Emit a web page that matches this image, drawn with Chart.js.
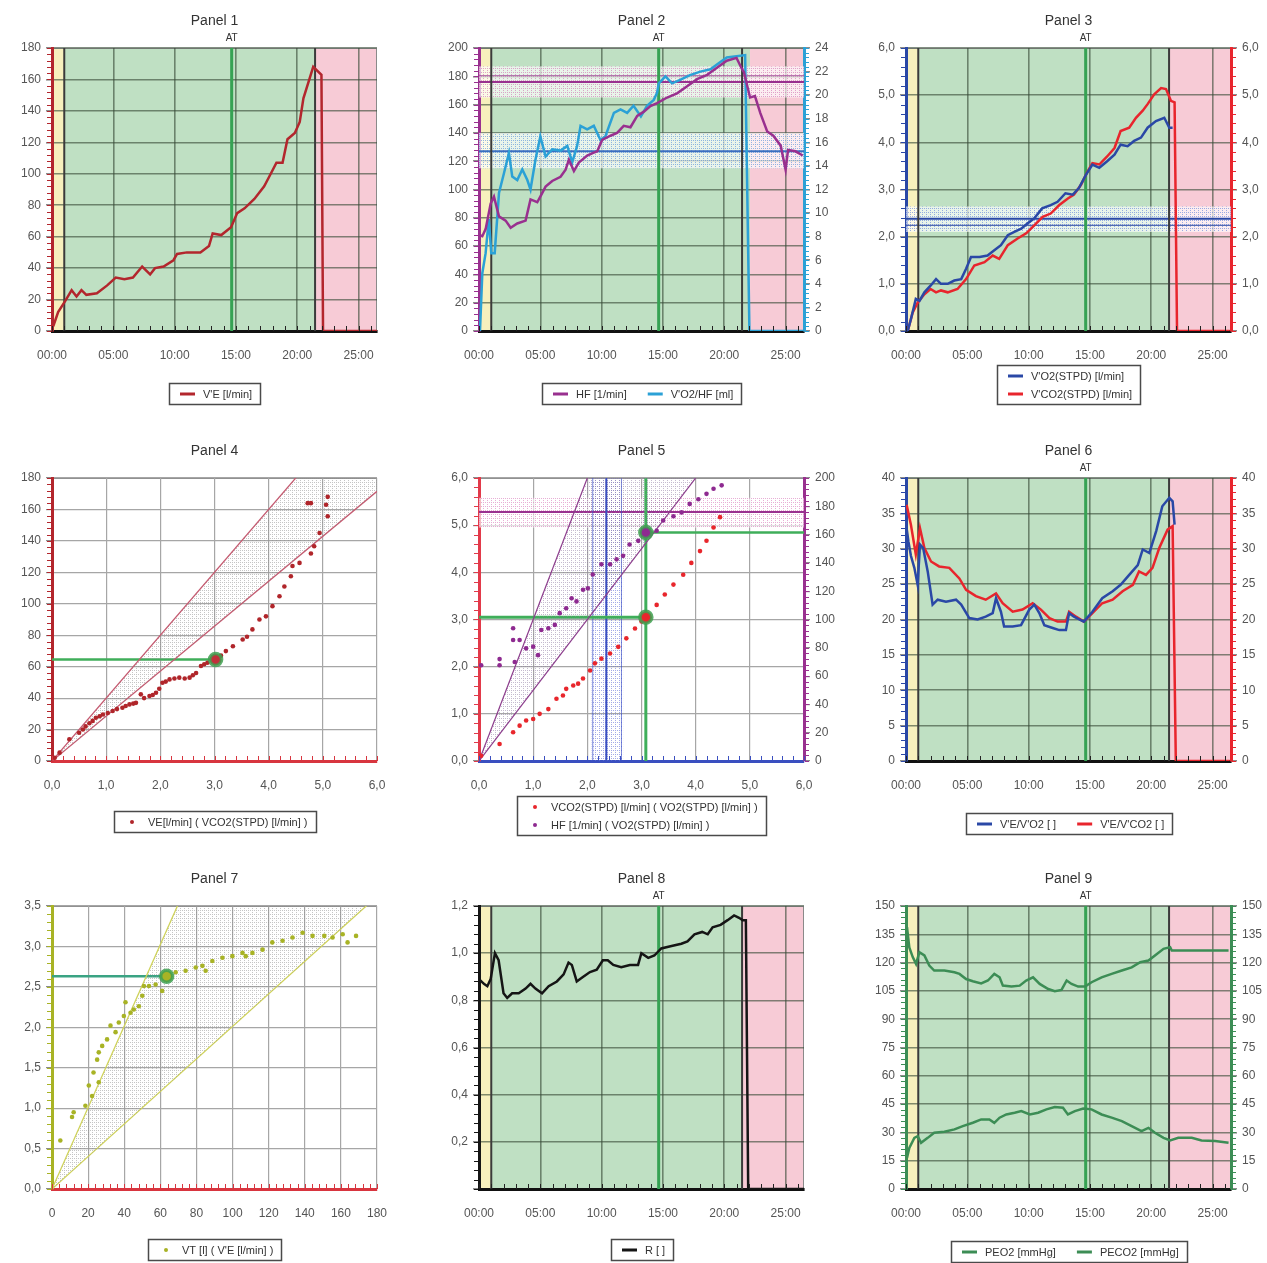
<!DOCTYPE html>
<html>
<head>
<meta charset="utf-8">
<script src="https://cdn.jsdelivr.net/npm/chart.js@4.4.1/dist/chart.umd.min.js"></script>
<style>
html, body { margin: 0; padding: 0; background: #fff; }
body { width: 1267px; height: 1263px; overflow: hidden; position: relative; }
canvas { position: absolute; }
</style>
</head>
<body>
<script>
// ---- data (time in minutes) ----
const X_MAX = 26.5;
const phaseEdges = [0, 1.0, 21.45, 26.5];      // rest | exercise | recovery
const p2PhaseEdges = [0, 1.0, 22.1, 26.5];
const phaseLineTimes = [1.0, 21.45];
const atTime = [14.65];

// Panel 1: V'E
const p1Time = [0.1,0.5,1.07,1.6,2.0,2.4,2.8,3.66,4.5,5.2,5.9,6.6,7.35,8.0,8.4,9.1,9.9,10.2,11.0,12.1,12.8,13.1,13.8,14.6,15.1,15.7,16.5,17.3,17.9,18.3,18.8,19.2,19.8,20.2,20.5,20.9,21.3,21.97,22.1,26.5];
const p1Ve = [3,12,19,26,22,26,23,24,29,34,33,34,41,36,40,41,45,49,50,50,54,62,61,66,75,78,84,92,101,107,107,122,126,133,148,158,168,163,0,0];

// Panel 2: HF and V'O2/HF
const p2HfTime = [0,0.27,0.54,0.95,1.22,1.63,2.17,2.58,3.12,3.8,4.2,4.75,5.0,5.43,5.97,6.65,7.06,7.33,7.74,8.14,8.82,9.36,9.64,10.04,10.72,11.26,11.8,12.35,12.9,13.44,13.98,14.52,15.34,16.15,16.97,17.78,18.6,19.4,20.2,21.0,21.45,21.6,22.1,22.5,22.94,23.5,24.0,24.6,25.0,25.2,25.8,26.4];
const p2Hf = [68,67,72,90,95,81,78,73,76,78,93,91,95,102,106,109,114,121,113,119,124,126,127,135,138,140,145,144,152,155,159,161,165,168,173,178,181,186,191,193,185,183,165,166,154,141,138,131,114,128,127,124];
const p2VoHfTime = [0.08,0.27,0.54,0.8,1.0,1.28,1.63,2.04,2.44,2.71,3.12,3.53,3.94,4.2,4.6,5.0,5.43,5.97,6.65,7.2,7.6,8.0,8.28,8.82,9.36,9.9,10.3,11.0,11.54,12.08,12.6,13.2,13.7,14.25,14.52,14.66,15.2,15.74,16.4,17.2,18.05,18.87,19.4,20.2,21.0,21.7,22.05,26.5];
const p2VoHf = [0,4.9,6.6,9.5,6.6,6.6,11.7,13.4,15.1,13.1,12.8,13.7,12.8,12.0,14.5,16.5,14.8,15.4,15.3,15.7,14.3,15.7,17.4,17.1,17.4,16.2,16.5,18.5,18.8,18.5,19.1,18.2,19.1,19.6,20.2,21.0,21.6,21.0,21.3,21.7,22.0,22.2,22.6,23.2,23.3,23.4,0,0];
const p2HfRef = [165, 176, 187];       // band low, reference, band high
const p2HfLimit = [180.5];
const p2VoHfRef = [13.8, 15.25, 16.8];

// Panel 3: V'O2 and V'CO2
const p3Vo2Time = [0.14,0.4,0.8,1.1,1.5,2.0,2.45,2.85,3.4,3.94,4.5,4.9,5.3,6.0,6.65,7.2,7.74,8.3,8.83,9.4,9.9,10.46,11.1,11.8,12.36,13.0,13.6,14.1,14.67,15.2,15.76,16.4,17.0,17.5,18.07,18.6,19.16,19.7,20.38,21.06,21.47,21.74];
const p3Vo2 = [0,0.25,0.68,0.64,0.82,0.96,1.10,1.0,1.0,1.07,1.10,1.32,1.57,1.57,1.60,1.71,1.82,2.03,2.10,2.17,2.28,2.39,2.60,2.67,2.74,2.92,2.89,3.03,3.31,3.53,3.46,3.6,3.74,3.95,3.92,4.03,4.10,4.31,4.45,4.52,4.31,4.31];
const p3Vco2Time = [0.14,0.54,0.95,1.5,2.0,2.45,2.85,3.4,4.2,4.9,5.57,6.4,7.07,7.6,8.3,9.1,9.8,10.46,11.14,11.8,12.5,13.2,13.7,14.27,14.8,15.2,15.76,16.4,17.0,17.5,18.2,18.75,19.3,19.7,20.24,20.8,21.2,21.6,21.9,22.1,26.4];
const p3Vco2 = [0,0.39,0.6,0.78,0.89,0.82,0.86,0.82,0.89,1.10,1.39,1.46,1.60,1.53,1.82,1.96,2.07,2.24,2.42,2.49,2.67,2.81,2.89,3.10,3.38,3.56,3.53,3.7,3.88,4.24,4.31,4.52,4.67,4.81,5.02,5.15,5.13,4.88,4.85,0,0];
const p3Vo2Ref = [2.1, 2.24, 2.38, 2.64];

// Panel 4: V'E vs V'CO2
const p4Vco2 = [0.05,0.14,0.32,0.5,0.57,0.62,0.69,0.75,0.81,0.88,0.94,1.03,1.12,1.2,1.3,1.36,1.43,1.5,1.55,1.64,1.7,1.8,1.86,1.92,1.98,2.04,2.1,2.17,2.26,2.35,2.45,2.54,2.6,2.66,2.75,2.81,2.87,3.03,3.12,3.21,3.34,3.52,3.6,3.7,3.83,3.95,4.07,4.2,4.29,4.41,4.44,4.57,4.78,4.84,4.94,5.09,5.06,5.09,4.78,4.72];
const p4Ve = [2,5.3,13.8,18,20,22,24,25.5,27.5,28.5,29.6,30.5,31.8,33,33.9,35,36,36.5,37,42.4,40,41.3,42,43.4,46,49.8,50.5,51.9,52.5,53,52.5,53,54.5,56,60.4,61.5,62.5,64.6,67,69.9,73,77.3,79,83.7,90,92,98.5,104.8,111,117.5,124,126,132,136.6,145,155.7,163,168,164,164];
const p4RefX = [0, 6];
const p4UpperY = [0, 240];
const p4LowerY = [0, 171.5];
const p4At = [3.02, 64.5];

// Panel 5: V'CO2 and HF vs V'O2
const p5Vo2 = [0.04,0.38,0.63,0.75,0.87,1.0,1.12,1.28,1.43,1.55,1.61,1.74,1.83,1.92,2.05,2.14,2.26,2.42,2.57,2.72,2.88,3.0,3.12,3.28,3.43,3.59,3.77,3.92,4.08,4.2,4.33,4.45];
const p5Vco2 = [0.11,0.36,0.61,0.75,0.86,0.89,1.0,1.1,1.32,1.39,1.53,1.6,1.64,1.75,1.92,2.07,2.17,2.28,2.42,2.6,2.81,2.96,3.06,3.31,3.53,3.74,3.95,4.2,4.45,4.67,4.95,5.17];
const p5HfVo2 = [0.04,0.38,0.38,0.63,0.63,0.66,0.75,0.87,1.0,1.09,1.15,1.28,1.4,1.49,1.61,1.71,1.8,1.92,2.01,2.1,2.26,2.42,2.54,2.66,2.78,2.94,3.12,3.28,3.4,3.59,3.74,3.89,4.05,4.2,4.33,4.48];
const p5Hf = [67.7,67.7,72,93.8,85.5,70,85.5,79.6,80.8,74.8,92.6,93.8,96.2,104.5,108,115,112.8,121,122,131.8,139,139,142.5,145,153,155.6,160,162.7,170,173,175.7,181.7,185,188.8,192.4,194.8];
const p5RefX = [0, 6];
const p5SteepHf = [0, 600];
const p5ShallowHf = [0, 300];
const p5At = [3.08, 3.05, 161.5];       // V'O2, V'CO2, HF at AT
const p5Vo2Ref = [2.08, 2.1, 2.35, 2.63, 2.66];
const p5HfRef = [165, 176, 186];

// Panel 6: V'E/V'O2 and V'E/V'CO2
const p6VeVo2Time = [0.05,0.2,0.4,0.68,0.95,1.14,1.4,1.77,2.17,2.58,3.26,4.08,4.5,5.16,5.84,6.5,7.07,7.34,7.74,8.0,8.7,9.38,10.05,10.46,10.87,11.28,11.96,12.5,13.04,13.3,13.7,14.13,14.5,15.2,16.0,16.85,17.5,18.2,18.9,19.3,19.84,20.4,20.9,21.47,21.74,21.9];
const p6VeVo2 = [32.9,31,29,27.3,24.9,30.6,30.1,26.8,22.1,22.8,22.5,22.8,22.1,20.2,20.0,20.4,20.9,23.0,21.1,19.0,19.0,19.2,21.4,22.1,20.9,19.2,18.8,18.5,18.5,20.9,20.4,20.0,19.7,21.1,23.0,24.0,24.9,26.3,27.7,29.9,29.4,32.5,36.0,37.2,36.7,33.4];
const p6VeVco2Time = [0.05,0.4,0.8,1.14,1.5,2.04,2.7,3.53,4.35,4.9,5.7,6.5,7.34,7.88,8.7,9.5,10.33,11.0,11.7,12.36,13.04,13.3,13.86,14.5,15.2,16.0,16.85,17.66,18.5,19.0,19.57,20.1,20.65,21.33,21.74,22.0,26.4];
const p6VeVco2 = [36.2,33.4,29.2,32.9,30.1,28.2,27.5,27.3,25.8,24.2,23.3,22.8,23.7,22.3,21.1,21.4,22.3,21.4,20.2,19.7,19.7,21.1,20.4,19.7,20.9,22.3,22.8,24.0,24.9,26.8,26.3,27.3,30.1,32.7,33.2,0,0];

// Panel 7: VT vs V'E
const p7Ve = [4.6,11.1,12,18.5,20.4,22.2,23,25,25.9,27.8,25.9,30.5,32.4,35.2,37,39.8,40.7,43.5,45.3,48.1,50,50.9,53.7,57.4,61,63,68.5,74,79.6,83.3,85.1,88.8,94.4,99.9,105.5,107.3,111,116.6,122,127.7,133.2,138.8,144.3,150.8,155.4,161,163.7,168.4];
const p7Vt = [0.6,0.89,0.95,1.03,1.28,1.15,1.44,1.6,1.69,1.77,1.32,1.85,2.02,1.94,2.06,2.14,2.31,2.18,2.22,2.26,2.39,2.51,2.51,2.53,2.45,2.66,2.68,2.7,2.74,2.76,2.7,2.82,2.86,2.88,2.92,2.88,2.92,2.96,3.05,3.07,3.11,3.17,3.13,3.13,3.11,3.15,3.05,3.13];
const p7RefX = [0, 180];
const p7SteepY = [0, 9.07];
const p7ShallowY = [0, 3.62];
const p7At = [63.5, 2.63];

// Panel 8: R
const p8Time = [0,0.4,0.68,0.95,1.3,1.6,2.0,2.3,2.7,3.24,3.8,4.2,4.6,5.14,5.68,6.35,6.9,7.3,7.57,7.97,8.5,9.05,9.6,10.1,10.5,10.95,11.6,12.3,12.97,13.24,13.8,14.3,14.86,15.7,16.5,17.0,17.57,18.2,18.65,19.05,19.7,20.27,20.8,21.2,21.5,21.76,21.95,26.5];
const p8R = [0.89,0.87,0.86,0.89,1.0,0.97,0.83,0.81,0.83,0.83,0.85,0.87,0.85,0.83,0.86,0.88,0.91,0.96,0.95,0.88,0.90,0.92,0.93,0.97,0.97,0.95,0.94,0.95,0.95,1.0,0.98,0.99,1.02,1.03,1.04,1.05,1.08,1.09,1.08,1.11,1.12,1.14,1.16,1.15,1.14,1.14,0,0];

// Panel 9: PEO2 and PECO2
const p9Peo2Time = [0.08,0.27,0.55,0.82,1.09,1.5,1.9,2.3,3.13,3.95,4.36,4.9,5.45,6.13,6.68,7.2,7.63,7.9,8.6,9.27,9.8,10.36,10.9,11.6,12.13,12.68,13.1,13.5,14.04,14.6,15.13,15.95,16.77,17.6,18.4,19.1,19.77,20.3,21.0,21.54,21.67,26.3];
const p9Peo2 = [138.8,128,122.9,119.3,125.5,123.8,118.4,115.8,115.8,114.9,114,111.3,110.1,109,110.5,114,112.2,107.8,107.3,107.8,110.5,112.2,108.7,106,104.8,105.5,110.5,108.7,107.3,107.3,109.6,112.2,114,115.8,117.5,120.2,121.1,123.8,127.3,128.2,126.4,126.4];
const p9Peco2Time = [0.08,0.27,0.68,0.95,1.23,1.77,2.3,3.13,3.95,4.63,5.45,6.13,6.8,7.2,7.63,8.18,8.86,9.4,10.1,10.77,11.45,12.13,12.8,13.2,13.77,14.45,15.13,15.95,16.77,17.6,18.4,19.2,19.77,20.3,21.0,21.54,22.2,23.3,24.1,25.2,26.3];
const p9Peco2 = [16.5,21.8,27.1,28,24.5,27.1,29.8,30.3,31.6,33.3,35.1,36.9,36.9,35.1,37.8,39.5,40.4,41.3,39.5,40.4,42.2,43.4,43.1,39.5,41.3,42.7,42.2,39.5,37.8,36,33.3,30.7,32.4,29.8,27.1,25.7,27.1,27.1,25.7,25.4,24.5];

// ---- look ----
const FONT = '"Liberation Sans", Arial, Helvetica, sans-serif';
Chart.defaults.font.family = FONT;
Chart.defaults.font.size = 12;
Chart.defaults.color = '#555';

const COL = {
    grid: 'rgba(55,75,55,0.62)',
    scatterGrid: '#a6a6a6',
    frame: '#8a8a8a',
    at: '#36a253',
    phase: '#3b3b3b',
    ve: '#b3262d',
    hf: '#99308f',
    vohf: '#2ba1d6',
    vo2: '#2a48a6',
    vco2: '#e8252d',
    r: '#151515',
    pe: '#3c8d55',
    olive: '#a8b325',
    refRed: '#c45a70',
    refPurple: '#8c3c8c',
    refOlive: '#cfd25a'
};
const PHASE_COLORS = ['#f7f0bd', '#bfe0c3', '#f7cbd6'];

const COL_X = [52, 479, 906];
const ROW_Y = [48, 478, 906];

function dots(color) {
    const c = document.createElement('canvas');
    c.width = 4; c.height = 4;
    const g = c.getContext('2d');
    g.fillStyle = color;
    g.fillRect(0, 0, 1, 1);
    g.fillRect(2, 0, 1, 1);
    g.fillRect(0, 2, 1, 1);
    return g.createPattern(c, 'repeat');
}

const comma1 = v => v.toFixed(1).replace('.', ',');
const mmss = v => String(v).padStart(2, '0') + ':00';
const plain = v => String(v);

function xy(xs, ys) {
    return xs.map((x, i) => ({x, y: ys[i]}));
}

function lineSet(label, xs, ys, color, axis) {
    return {label, data: xy(xs, ys), borderColor: color, backgroundColor: color,
        borderWidth: 2.5, pointRadius: 0, yAxisID: axis || 'y', fill: false, order: 2};
}

function dotSet(label, xs, ys, color, axis) {
    return {label, data: xy(xs, ys), showLine: false, borderColor: color, backgroundColor: color,
        pointRadius: 2.3, pointBorderWidth: 0, yAxisID: axis || 'y', order: 1};
}

function refSet(xs, ys, color, width, axis, fill) {
    return {label: '', data: xy(xs, ys), borderColor: color, borderWidth: width, pointRadius: 0,
        yAxisID: axis || 'y', fill: fill ? '+1' : false, backgroundColor: fill || color, order: 4};
}

function atSet(xs, ys, color, axis) {
    return {label: '', data: xy(xs, ys), showLine: false, pointRadius: 6, pointBackgroundColor: color,
        pointBorderColor: 'rgba(62,160,80,0.85)', pointBorderWidth: 3.5, yAxisID: axis || 'y', order: 0};
}

// ---- plugins ----
const panelDecor = {};

const phaseBands = {
    id: 'phaseBands',
    beforeDraw(chart) {
        const d = panelDecor[chart.canvas.id];
        const {ctx, chartArea: a, scales: {x}} = chart;
        ctx.save();
        ctx.fillStyle = '#fff';
        ctx.fillRect(a.left, a.top, a.width, a.height);
        if (d.phases) {
            for (let i = 0; i < d.phases.length - 1; i++) {
                const x0 = x.getPixelForValue(d.phases[i]);
                const x1 = x.getPixelForValue(d.phases[i + 1]);
                ctx.fillStyle = PHASE_COLORS[i];
                ctx.fillRect(x0, a.top, x1 - x0, a.height);
            }
        }
        ctx.strokeStyle = COL.frame;
        ctx.lineWidth = 1;
        ctx.strokeRect(a.left + 0.5, a.top + 0.5, a.width - 1, a.height - 1);
        ctx.restore();
    }
};

const refMarks = {
    id: 'refMarks',
    beforeDatasetsDraw(chart) {
        const d = panelDecor[chart.canvas.id];
        const {ctx, chartArea: a, scales} = chart;
        ctx.save();
        ctx.beginPath();
        ctx.rect(a.left, a.top, a.width, a.height);
        ctx.clip();
        d.hBands.forEach(b => {
            const s = scales[b.axis];
            const y0 = s.getPixelForValue(b.to), y1 = s.getPixelForValue(b.from);
            ctx.fillStyle = 'rgba(255,255,255,0.65)';
            ctx.fillRect(a.left, y0, a.width, y1 - y0);
            ctx.fillStyle = b.pattern;
            ctx.fillRect(a.left, y0, a.width, y1 - y0);
        });
        d.vBands.forEach(b => {
            const x0 = scales.x.getPixelForValue(b.from), x1 = scales.x.getPixelForValue(b.to);
            ctx.fillStyle = b.pattern;
            ctx.fillRect(x0, a.top, x1 - x0, a.height);
        });
        d.hLines.forEach(l => {
            const y = scales[l.axis].getPixelForValue(l.value);
            ctx.strokeStyle = l.color;
            ctx.lineWidth = l.width;
            ctx.beginPath();
            ctx.moveTo(a.left, y);
            ctx.lineTo(a.right, y);
            ctx.stroke();
        });
        d.vLines.forEach(l => {
            const x = scales.x.getPixelForValue(l.value);
            ctx.strokeStyle = l.color;
            ctx.lineWidth = l.width;
            ctx.beginPath();
            ctx.moveTo(x, a.top);
            ctx.lineTo(x, a.bottom);
            ctx.stroke();
        });
        ctx.restore();
    }
};

const minorTicks = {
    id: 'minorTicks',
    afterDraw(chart) {
        const d = panelDecor[chart.canvas.id];
        const {ctx, chartArea: a, scales} = chart;
        ctx.save();
        ctx.lineWidth = 1;
        const sx = scales.x;
        ctx.strokeStyle = d.minorXColor;
        for (let v = sx.min; v <= sx.max + 1e-9; v += d.minor.x) {
            const px = Math.round(sx.getPixelForValue(v)) + 0.5;
            ctx.beginPath();
            ctx.moveTo(px, a.bottom);
            ctx.lineTo(px, a.bottom - 5);
            ctx.stroke();
        }
        ['y', 'y2'].forEach(id => {
            const s = scales[id];
            if (!s || !d.minor[id]) return;
            const edge = s.position === 'left' ? a.left - 1 : a.right + 1;
            const dir = s.position === 'left' ? -1 : 1;
            ctx.strokeStyle = s.options.border.color;
            for (let v = s.min; v <= s.max + 1e-9; v += d.minor[id]) {
                const py = Math.round(s.getPixelForValue(v)) + 0.5;
                ctx.beginPath();
                ctx.moveTo(edge, py);
                ctx.lineTo(edge + dir * 4, py);
                ctx.stroke();
            }
        });
        ctx.restore();
    }
};

const panelText = {
    id: 'panelText',
    afterDraw(chart) {
        const d = panelDecor[chart.canvas.id];
        const {ctx, chartArea: a} = chart;
        ctx.save();
        ctx.fillStyle = '#333';
        ctx.textAlign = 'center';
        ctx.textBaseline = 'middle';
        ctx.font = '14px ' + FONT;
        ctx.fillText(d.title, (a.left + a.right) / 2, a.top - 27);
        if (d.at != null) {
            ctx.font = '10px ' + FONT;
            ctx.fillText('AT', chart.scales.x.getPixelForValue(d.at), a.top - 10);
        }
        ctx.restore();
    }
};

const boxLegend = {
    id: 'boxLegend',
    afterDraw(chart) {
        const d = panelDecor[chart.canvas.id];
        const {ctx, chartArea: a} = chart;
        const ds = chart.data.datasets;
        const rows = d.legend.rows;
        ctx.save();
        ctx.font = '11px ' + FONT;
        const rowW = rows.map(r => r.reduce((w, i, k) =>
            w + 24 + ctx.measureText(ds[i].label).width + (k ? 20 : 0), 0));
        const w = Math.round(Math.max(...rowW) + 18);
        const h = rows.length * 18 + 3;
        const x0 = Math.round((a.left + a.right - w) / 2);
        const y0 = Math.round(a.bottom + d.legend.top);
        ctx.fillStyle = '#fff';
        ctx.fillRect(x0, y0, w, h);
        ctx.strokeStyle = '#4a4a4a';
        ctx.lineWidth = 1.5;
        ctx.strokeRect(x0 + 0.5, y0 + 0.5, w, h);
        rows.forEach((r, ri) => {
            let x = x0 + 10;
            const y = y0 + 11 + ri * 18;
            r.forEach(i => {
                const s = ds[i];
                if (s.showLine === false) {
                    ctx.fillStyle = s.backgroundColor;
                    ctx.beginPath();
                    ctx.arc(x + 8, y, 2, 0, Math.PI * 2);
                    ctx.fill();
                } else {
                    ctx.strokeStyle = s.borderColor;
                    ctx.lineWidth = 3;
                    ctx.beginPath();
                    ctx.moveTo(x + 1, y);
                    ctx.lineTo(x + 16, y);
                    ctx.stroke();
                }
                ctx.fillStyle = '#333';
                ctx.textAlign = 'left';
                ctx.textBaseline = 'middle';
                ctx.fillText(s.label, x + 24, y + 0.5);
                x += 24 + ctx.measureText(s.label).width + 20;
            });
        });
        ctx.restore();
    }
};

const PANEL_PLUGINS = [phaseBands, refMarks, minorTicks, panelText, boxLegend];

// ---- builders ----
function makeCanvas(id, col, row) {
    const c = document.createElement('canvas');
    c.id = id;
    c.width = 422;
    c.height = 420;
    c.style.left = (COL_X[col] - 52) + 'px';
    c.style.top = (ROW_Y[row] - 48) + 'px';
    document.body.appendChild(c);
    return c;
}

function xScale(max, step, fmt, borderColor, gridColor, gridWidth) {
    return {
        type: 'linear', min: 0, max,
        afterFit: s => { s.height = 30; },
        ticks: {stepSize: step, includeBounds: false, autoSkip: false, maxRotation: 0,
            padding: 17, color: '#555', font: {size: 12}, callback: fmt},
        grid: {color: gridColor, lineWidth: gridWidth, drawTicks: false},
        border: {color: borderColor, width: 3}
    };
}

function yScale(pos, max, step, fmt, borderColor, gridColor, gridWidth) {
    return {
        type: 'linear', position: pos, min: 0, max,
        afterFit: s => { s.width = pos === 'left' ? 44 : 45; },
        ticks: {stepSize: step, includeBounds: false, autoSkip: false,
            padding: 5, color: '#555', font: {size: 12}, callback: fmt},
        grid: {color: gridColor, lineWidth: gridWidth, drawOnChartArea: pos === 'left',
            tickLength: 6, tickColor: '#8c8c8c'},
        border: {color: borderColor, width: 3}
    };
}

function baseOptions(hasRight, scales) {
    return {
        responsive: false,
        animation: false,
        events: [],
        layout: {padding: {left: 8, top: 48, right: hasRight ? 0 : 45, bottom: 59}},
        scales,
        plugins: {legend: {display: false}, tooltip: {enabled: false}}
    };
}

function timePanel(id, col, row, p) {
    const canvas = makeCanvas(id, col, row);
    panelDecor[id] = {
        title: p.title,
        at: atTime[0],
        phases: p.phases || phaseEdges,
        hBands: p.hBands || [],
        hLines: p.hLines || [],
        vBands: [],
        vLines: phaseLineTimes.map(t => ({value: t, color: COL.phase, width: 2}))
            .concat([{value: atTime[0], color: COL.at, width: 3}]),
        legend: p.legend,
        minor: {x: 1, y: p.yStep / 5, y2: p.y2 ? p.y2.step / 5 : 0},
        minorXColor: '#222'
    };
    const scales = {
        x: xScale(X_MAX, 5, mmss, '#111', COL.grid, 1.6),
        y: yScale('left', p.yMax, p.yStep, p.fmt, p.leftColor, COL.grid, 1.6)
    };
    if (p.y2) scales.y2 = yScale('right', p.y2.max, p.y2.step, p.y2.fmt || p.fmt, p.y2.color, COL.grid, 1.6);
    return new Chart(canvas, {
        type: 'line',
        data: {datasets: p.datasets},
        options: baseOptions(!!p.y2, scales),
        plugins: PANEL_PLUGINS
    });
}

function scatterPanel(id, col, row, p) {
    const canvas = makeCanvas(id, col, row);
    panelDecor[id] = {
        title: p.title,
        at: null,
        phases: null,
        hBands: p.hBands || [],
        hLines: p.hLines || [],
        vBands: p.vBands || [],
        vLines: p.vLines || [],
        legend: p.legend,
        minor: {x: p.xStep / 5, y: p.yStep / 5, y2: p.y2 ? p.y2.step / 5 : 0},
        minorXColor: p.bottomColor
    };
    const scales = {
        x: xScale(p.xMax, p.xStep, p.xFmt, p.bottomColor, COL.scatterGrid, 1.2),
        y: yScale('left', p.yMax, p.yStep, p.fmt, p.leftColor, COL.scatterGrid, 1.2)
    };
    if (p.y2) scales.y2 = yScale('right', p.y2.max, p.y2.step, p.y2.fmt, p.y2.color, COL.scatterGrid, 1.2);
    return new Chart(canvas, {
        type: 'line',
        data: {datasets: p.datasets},
        options: baseOptions(!!p.y2, scales),
        plugins: PANEL_PLUGINS
    });
}

// ---- panels ----
timePanel('panel1', 0, 0, {
    title: 'Panel 1', yMax: 180, yStep: 20, fmt: plain, leftColor: COL.ve,
    datasets: [lineSet("V'E [l/min]", p1Time, p1Ve, COL.ve)],
    legend: {rows: [[0]], top: 52}
});

timePanel('panel2', 1, 0, {
    title: 'Panel 2', yMax: 200, yStep: 20, fmt: plain, leftColor: COL.hf,
    y2: {max: 24, step: 2, fmt: plain, color: COL.vohf},
    phases: p2PhaseEdges,
    datasets: [
        lineSet('HF [1/min]', p2HfTime, p2Hf, COL.hf),
        lineSet("V'O2/HF [ml]", p2VoHfTime, p2VoHf, COL.vohf, 'y2')
    ],
    hBands: [
        {axis: 'y', from: p2HfRef[0], to: p2HfRef[2], pattern: dots('rgba(205,110,175,0.6)')},
        {axis: 'y2', from: p2VoHfRef[0], to: p2VoHfRef[2], pattern: dots('rgba(80,140,215,0.6)')}
    ],
    hLines: [
        {axis: 'y', value: p2HfRef[1], color: COL.hf, width: 2},
        {axis: 'y', value: p2HfLimit[0], color: 'rgba(150,50,140,0.7)', width: 1},
        {axis: 'y2', value: p2VoHfRef[1], color: '#3b6fc0', width: 2}
    ],
    legend: {rows: [[0, 1]], top: 52}
});

timePanel('panel3', 2, 0, {
    title: 'Panel 3', yMax: 6, yStep: 1, fmt: comma1, leftColor: COL.vo2,
    y2: {max: 6, step: 1, color: COL.vco2},
    datasets: [
        lineSet("V'O2(STPD) [l/min]", p3Vo2Time, p3Vo2, COL.vo2),
        lineSet("V'CO2(STPD) [l/min]", p3Vco2Time, p3Vco2, COL.vco2)
    ],
    hBands: [{axis: 'y', from: p3Vo2Ref[0], to: p3Vo2Ref[3], pattern: dots('rgba(90,125,215,0.6)')}],
    hLines: [
        {axis: 'y', value: p3Vo2Ref[2], color: COL.vo2, width: 2},
        {axis: 'y', value: p3Vo2Ref[1], color: 'rgba(42,72,166,0.8)', width: 1.2}
    ],
    legend: {rows: [[0], [1]], top: 34}
});

scatterPanel('panel4', 0, 1, {
    title: 'Panel 4', xMax: 6, xStep: 1, xFmt: comma1, yMax: 180, yStep: 20, fmt: plain,
    leftColor: COL.ve, bottomColor: '#d8353f',
    datasets: [
        dotSet('VE[l/min] ( VCO2(STPD) [l/min] )', p4Vco2, p4Ve, '#b0252a'),
        refSet(p4RefX, p4UpperY, COL.refRed, 1.3, 'y', dots('rgba(140,140,140,0.5)')),
        refSet(p4RefX, p4LowerY, COL.refRed, 1.3),
        refSet([0, p4At[0]], [p4At[1], p4At[1]], '#3fae5a', 2.5),
        atSet([p4At[0]], [p4At[1]], '#c0303a')
    ],
    legend: {rows: [[0]], top: 50}
});

scatterPanel('panel5', 1, 1, {
    title: 'Panel 5', xMax: 6, xStep: 1, xFmt: comma1, yMax: 6, yStep: 1, fmt: comma1,
    leftColor: '#e23a4a', bottomColor: '#3a4fc0',
    y2: {max: 200, step: 20, fmt: plain, color: COL.hf},
    datasets: [
        dotSet('VCO2(STPD) [l/min] ( VO2(STPD) [l/min] )', p5Vo2, p5Vco2, '#e8262c'),
        dotSet('HF [1/min] ( VO2(STPD) [l/min] )', p5HfVo2, p5Hf, '#8e2a90', 'y2'),
        refSet(p5RefX, p5SteepHf, COL.refPurple, 1.2, 'y2', dots('rgba(140,120,160,0.5)')),
        refSet(p5RefX, p5ShallowHf, COL.refPurple, 1.2, 'y2'),
        refSet([0, p5At[0]], [p5At[1], p5At[1]], '#3fae5a', 3),
        refSet([p5At[0], p5RefX[1]], [p5At[2], p5At[2]], '#3fae5a', 2.5, 'y2'),
        atSet([p5At[0]], [p5At[1]], '#e8262c'),
        atSet([p5At[0]], [p5At[2]], '#8e2a90', 'y2')
    ],
    hBands: [{axis: 'y2', from: p5HfRef[0], to: p5HfRef[2], pattern: dots('rgba(215,120,185,0.6)')}],
    hLines: [{axis: 'y2', value: p5HfRef[1], color: COL.hf, width: 2}],
    vBands: [{from: p5Vo2Ref[0], to: p5Vo2Ref[4], pattern: dots('rgba(100,115,215,0.6)')}],
    vLines: [
        {value: p5Vo2Ref[1], color: 'rgba(60,80,200,0.7)', width: 1},
        {value: p5Vo2Ref[3], color: 'rgba(60,80,200,0.7)', width: 1},
        {value: p5Vo2Ref[2], color: '#3a4fc0', width: 2},
        {value: p5At[0], color: '#3fae5a', width: 3}
    ],
    legend: {rows: [[0], [1]], top: 35}
});

timePanel('panel6', 2, 1, {
    title: 'Panel 6', yMax: 40, yStep: 5, fmt: plain, leftColor: COL.vo2,
    y2: {max: 40, step: 5, color: COL.vco2},
    datasets: [
        lineSet("V'E/V'O2 [ ]", p6VeVo2Time, p6VeVo2, COL.vo2),
        lineSet("V'E/V'CO2 [ ]", p6VeVco2Time, p6VeVco2, COL.vco2)
    ],
    legend: {rows: [[0, 1]], top: 52}
});

scatterPanel('panel7', 0, 2, {
    title: 'Panel 7', xMax: 180, xStep: 20, xFmt: plain, yMax: 3.5, yStep: 0.5, fmt: comma1,
    leftColor: COL.olive, bottomColor: '#d8353f',
    datasets: [
        dotSet("VT [l] ( V'E [l/min] )", p7Ve, p7Vt, COL.olive),
        refSet(p7RefX, p7SteepY, COL.refOlive, 1.3, 'y', dots('rgba(140,140,140,0.5)')),
        refSet(p7RefX, p7ShallowY, COL.refOlive, 1.3),
        refSet([0, p7At[0]], [p7At[1], p7At[1]], '#3aa383', 2.5),
        atSet([p7At[0]], [p7At[1]], '#a8b325')
    ],
    legend: {rows: [[0]], top: 50}
});

timePanel('panel8', 1, 2, {
    title: 'Panel 8', yMax: 1.2, yStep: 0.2, leftColor: COL.r,
    fmt: v => (v === 0 ? '' : comma1(v)),
    datasets: [lineSet('R [ ]', p8Time, p8R, COL.r)],
    legend: {rows: [[0]], top: 50}
});

timePanel('panel9', 2, 2, {
    title: 'Panel 9', yMax: 150, yStep: 15, fmt: plain, leftColor: COL.pe,
    y2: {max: 150, step: 15, color: COL.pe},
    datasets: [
        lineSet('PEO2 [mmHg]', p9Peo2Time, p9Peo2, COL.pe),
        lineSet('PECO2 [mmHg]', p9Peco2Time, p9Peco2, COL.pe)
    ],
    legend: {rows: [[0, 1]], top: 52}
});
</script>
</body>
</html>
